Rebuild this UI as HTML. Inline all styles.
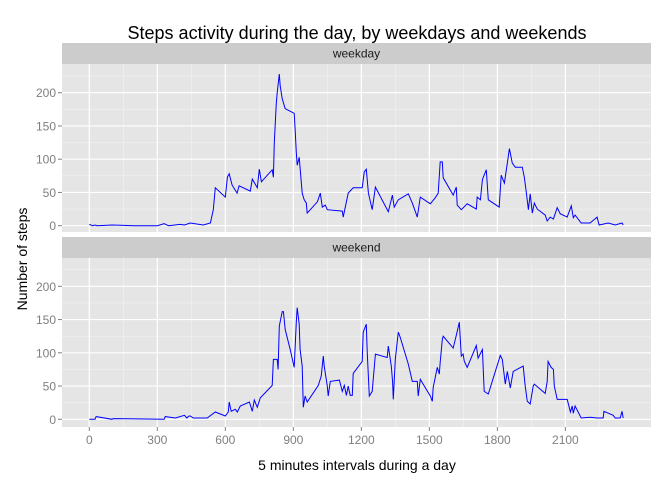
<!DOCTYPE html>
<html><head><meta charset="utf-8"><style>
body{margin:0;background:#fff;}
svg text{font-family:"Liberation Sans",sans-serif;}
</style></head><body>
<svg id="chart" width="672" height="480" xmlns="http://www.w3.org/2000/svg">
<text x="357" y="39" font-size="18" text-anchor="middle" fill="#000">Steps activity during the day, by weekdays and weekends</text>
<text x="357" y="470" font-size="14" text-anchor="middle" fill="#000">5 minutes intervals during a day</text>
<text transform="translate(27,259) rotate(-90)" font-size="14" text-anchor="middle" fill="#000">Number of steps</text>
</svg>
<script>
const xTicks=[0,300,600,900,1200,1500,1800,2100];
const yTicks=[0,50,100,150,200];
const weekdayX=[0,15,25,35,100,200,300,330,350,400,420,445,503,534,547,556,600,609,617,630,652,661,710,719,741,750,759,807,812,816,825,829,838,842,851,864,904,908,913,917,926,939,948,957,961,1006,1019,1028,1041,1050,1116,1120,1142,1164,1204,1213,1222,1231,1248,1262,1319,1337,1345,1363,1407,1425,1447,1460,1504,1526,1539,1548,1557,1561,1605,1619,1623,1641,1667,1707,1711,1725,1734,1738,1751,1760,1808,1817,1831,1848,1853,1866,1879,1910,1919,1928,1937,1945,1954,1963,1976,2011,2020,2033,2047,2064,2077,2108,2126,2135,2143,2170,2209,2240,2249,2289,2320,2350,2355];
const weekdayY=[2,0,1,0,1,0,0,3,0,2,1,4,1,4,24,57,43,73,78,61,49,60,52,70,57,85,66,84,73,125,184,200,228,210,191,176,169,146,110,91,103,49,39,34,19,36,49,28,31,24,22,13,49,57,57,81,85,49,24,58,21,46,28,39,48,34,13,43,33,42,49,96,96,72,46,58,31,24,33,25,43,39,69,73,84,39,28,76,64,103,116,94,88,88,73,49,24,48,19,34,25,16,7,13,10,27,18,13,30,12,16,4,4,13,1,4,1,4,1];
const weekendX=[0,25,30,100,105,330,335,380,420,430,440,445,459,520,556,600,613,617,626,644,653,666,706,719,728,741,754,807,812,829,833,838,851,856,864,886,904,913,917,926,930,939,944,952,961,1010,1023,1032,1036,1050,1054,1063,1103,1116,1125,1134,1142,1151,1160,1164,1204,1208,1222,1226,1235,1248,1262,1314,1319,1332,1338,1341,1350,1363,1372,1407,1425,1447,1451,1460,1504,1513,1517,1535,1544,1548,1557,1561,1605,1623,1632,1641,1649,1654,1667,1707,1715,1734,1742,1760,1813,1822,1835,1844,1857,1870,1914,1923,1932,1945,1958,1963,2011,2020,2024,2037,2047,2051,2064,2108,2122,2130,2135,2143,2170,2209,2240,2267,2270,2311,2320,2342,2350,2355];
const weekendY=[0,0,4,0,1,0,4,2,6,2,5,5,2,2,11,5,11,26,12,15,11,20,26,12,29,18,32,51,90,90,75,140,162,162,135,105,78,146,168,143,105,80,18,35,26,51,65,95,80,50,35,57,59,42,51,36,50,36,36,69,87,131,143,102,35,42,98,93,110,80,56,30,90,131,123,83,57,57,35,60,35,27,48,78,68,86,120,125,107,132,146,95,98,87,78,111,92,105,42,38,96,90,53,72,47,72,80,50,27,23,50,53,39,57,87,78,75,50,30,30,11,20,9,20,2,3,2,2,12,6,2,2,12,2];

const NS="http://www.w3.org/2000/svg";
const svg=document.getElementById('chart');
const L=62,R=651;
const xs=v=>89.3+v*0.2267;
function el(tag,attrs,parent){const e=document.createElementNS(NS,tag);for(const k in attrs)e.setAttribute(k,attrs[k]);(parent||svg).appendChild(e);return e;}
function panel(label,stripTop,top,bottom,zeroY,X,Y,nm){
  const ys=v=>zeroY-v*0.665;
  const s=el('rect',{x:L,y:stripTop,width:R-L,height:top-stripTop,fill:'#cccccc'});
  
  
  const st=el('text',{x:(L+R)/2,y:(stripTop+top)/2+4,'font-size':12,'text-anchor':'middle',fill:'#1a1a1a'});
  st.textContent=label;
  
  
  const bg=el('rect',{x:L,y:top,width:R-L,height:bottom-top,fill:'#e5e5e5'});
  
  
  // minor grid
  for(let v=25;v<250;v+=50){const y=ys(v);if(y>top&&y<bottom)el('line',{x1:L,x2:R,y1:y,y2:y,stroke:'#f2f2f2','stroke-width':0.6});}
  for(let v=-150;v<2500;v+=300){const x=xs(v);if(x>L&&x<R)el('line',{x1:x,x2:x,y1:top,y2:bottom,stroke:'#f2f2f2','stroke-width':0.6});}
  yTicks.forEach(v=>{const y=ys(v);el('line',{x1:L,x2:R,y1:y,y2:y,stroke:'#fff','stroke-width':1.2});
    el('line',{x1:58,x2:62,y1:y,y2:y,stroke:'#7f7f7f','stroke-width':1});
    const t=el('text',{x:56,y:y+4.5,'font-size':12,'text-anchor':'end',fill:'#7f7f7f'});t.textContent=v;
    
    });
  xTicks.forEach(v=>{const x=xs(v);el('line',{x1:x,x2:x,y1:top,y2:bottom,stroke:'#fff','stroke-width':1.2});});
  const d=X.map((x,i)=>(i?'L':'M')+xs(x).toFixed(1)+','+ys(Y[i]).toFixed(1)).join('');
  const p=el('path',{d:d,fill:'none',stroke:'#0000ff','stroke-width':1});
  
  
}
const title=svg.firstElementChild;
panel('weekday',43,64,232,225.7,weekdayX,weekdayY,'weekday');
panel('weekend',237,258,427,419.3,weekendX,weekendY,'weekend');
xTicks.forEach(v=>{const x=xs(v);el('line',{x1:x,x2:x,y1:427,y2:431,stroke:'#7f7f7f','stroke-width':1});
  const t=el('text',{x:x,y:444,'font-size':12,'text-anchor':'middle',fill:'#7f7f7f'});t.textContent=v;
  
  });
</script>
</body></html>
